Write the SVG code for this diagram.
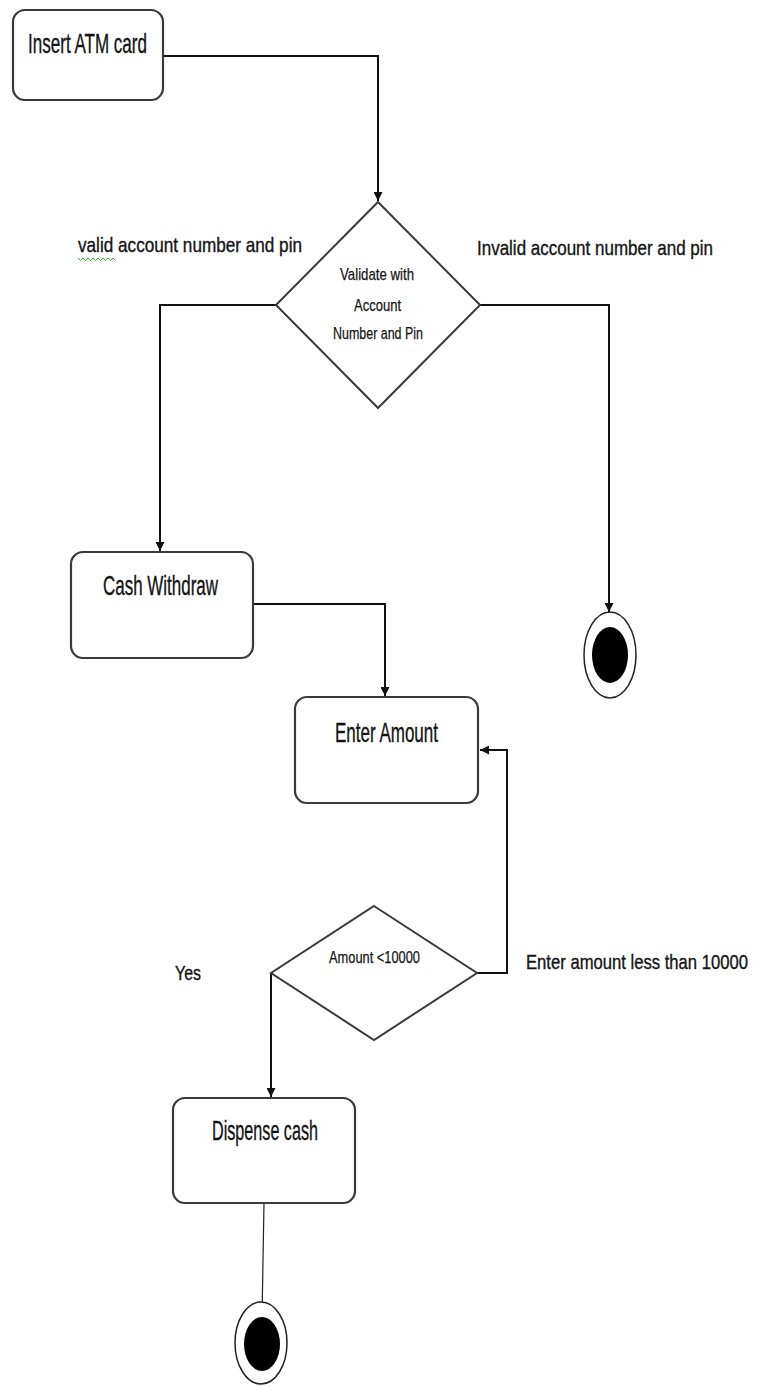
<svg xmlns="http://www.w3.org/2000/svg" width="757" height="1387" viewBox="0 0 757 1387">
  <style>
    .box { fill: #fff; stroke: #3a3a3a; stroke-width: 2.2; }
    .dec { fill: #fff; stroke: #3a3a3a; stroke-width: 2; }
    .lbl { font-family: "Liberation Sans", Arial, sans-serif; fill: #141414; stroke: #141414; stroke-width: 0.35; }
    .big { font-size: 28px; }
    .mid { font-size: 17px; stroke-width: 0.3; }
    .small { font-size: 17px; stroke-width: 0.25; }
    .edge { fill: none; stroke: #111; stroke-width: 2; }
    .thin { fill: none; stroke: #222; stroke-width: 1.2; }
  </style>
  <defs>
    <marker id="arrow" viewBox="0 0 10 10" refX="10" refY="5" markerWidth="9" markerHeight="9" markerUnits="userSpaceOnUse" orient="auto">
      <path d="M0,0 L10,5 L0,10 Z" fill="#111"/>
    </marker>
  </defs>

  <rect width="757" height="1387" fill="#fff"/>

  <!-- connectors -->
  <g id="connectors">
    <path class="edge" d="M163,56 H378 V201" marker-end="url(#arrow)"/>
    <path class="edge" d="M276,305 H160 V551" marker-end="url(#arrow)"/>
    <path class="edge" d="M480,305 H609 V612" marker-end="url(#arrow)"/>
    <path class="edge" d="M253,604 H385 V696" marker-end="url(#arrow)"/>
    <path class="edge" d="M477,973 H507 V750 H480" marker-end="url(#arrow)"/>
    <path class="edge" d="M271,973 V1097" marker-end="url(#arrow)"/>
    <path class="thin" d="M264,1203 L262,1318"/>
  </g>

  <!-- activities -->
  <g id="insert-card">
    <rect class="box" x="13" y="10" width="150" height="90" rx="12"/>
    <text class="lbl big" x="28" y="53" textLength="119" lengthAdjust="spacingAndGlyphs">Insert ATM card</text>
  </g>

  <g id="validate">
    <polygon class="dec" points="378,202 480,305 378,408 276,305"/>
    <text class="lbl small" x="340" y="280" textLength="74" lengthAdjust="spacingAndGlyphs">Validate with</text>
    <text class="lbl small" x="354" y="311" textLength="47" lengthAdjust="spacingAndGlyphs">Account</text>
    <text class="lbl small" x="333" y="339" textLength="90" lengthAdjust="spacingAndGlyphs">Number and Pin</text>
  </g>

  <!-- side labels: narrow face stretched upward -->
  <g id="label-valid">
    <g transform="translate(78,252) scale(1,1.2)">
      <text class="lbl mid" x="0" y="0" textLength="224" lengthAdjust="spacingAndGlyphs">valid account number and pin</text>
    </g>
    <path d="M78,258 l2.5,2.5 l2.5,-2.5 l2.5,2.5 l2.5,-2.5 l2.5,2.5 l2.5,-2.5 l2.5,2.5 l2.5,-2.5 l2.5,2.5 l2.5,-2.5 l2.5,2.5 l2.5,-2.5 l2.5,2.5 l2.5,-2.5 l2.5,2.5" fill="none" stroke="#3fa83f" stroke-width="1"/>
  </g>

  <g id="label-invalid">
    <g transform="translate(477,255) scale(1,1.2)">
      <text class="lbl mid" x="0" y="0" textLength="236" lengthAdjust="spacingAndGlyphs">Invalid account number and pin</text>
    </g>
  </g>

  <g id="cash-withdraw">
    <rect class="box" x="71" y="552" width="182" height="106" rx="12"/>
    <text class="lbl big" x="103" y="595" textLength="115" lengthAdjust="spacingAndGlyphs">Cash Withdraw</text>
  </g>

  <g id="end-invalid">
    <ellipse cx="610" cy="655" rx="26" ry="43" fill="#fff" stroke="#222" stroke-width="1.5"/>
    <ellipse cx="610" cy="655" rx="18" ry="28" fill="#000"/>
  </g>

  <g id="enter-amount">
    <rect class="box" x="295" y="697" width="183" height="106" rx="12"/>
    <text class="lbl big" x="335" y="742" textLength="103" lengthAdjust="spacingAndGlyphs">Enter Amount</text>
  </g>

  <g id="check-amount">
    <polygon class="dec" points="374,906 477,973 374,1040 271,973"/>
    <text class="lbl small" x="329" y="963" textLength="91" lengthAdjust="spacingAndGlyphs">Amount &lt;10000</text>
  </g>

  <g id="label-retry">
    <g transform="translate(526,969) scale(1,1.2)">
      <text class="lbl mid" x="0" y="0" textLength="222" lengthAdjust="spacingAndGlyphs">Enter amount less than 10000</text>
    </g>
  </g>

  <g id="label-yes">
    <g transform="translate(175,980) scale(1,1.2)">
      <text class="lbl mid" x="0" y="0" textLength="26" lengthAdjust="spacingAndGlyphs">Yes</text>
    </g>
  </g>

  <g id="dispense-cash">
    <rect class="box" x="173" y="1098" width="182" height="105" rx="12"/>
    <text class="lbl big" x="212" y="1140" textLength="106" lengthAdjust="spacingAndGlyphs">Dispense cash</text>
  </g>

  <g id="end-dispensed">
    <ellipse cx="261" cy="1343" rx="26" ry="41" fill="#fff" stroke="#222" stroke-width="1.5"/>
    <ellipse cx="262" cy="1344" rx="18" ry="27" fill="#000"/>
  </g>
</svg>
